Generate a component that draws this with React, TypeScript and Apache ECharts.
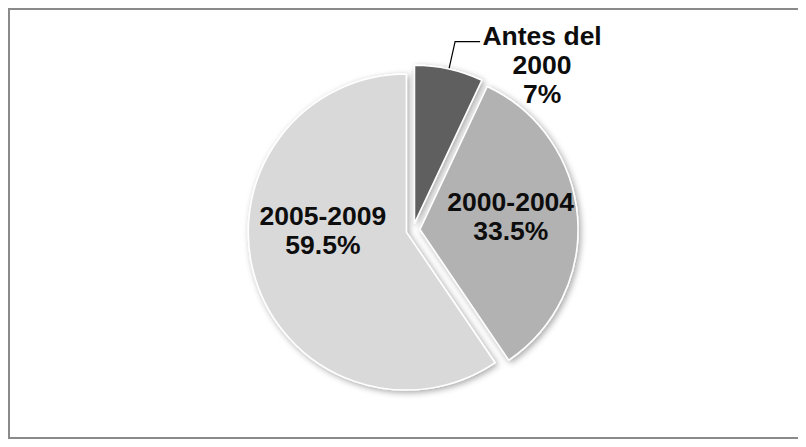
import React, { useEffect, useRef } from "react";
import * as echarts from "echarts";

const categories = ["Antes del\n2000", "2000-2004", "2005-2009"];
const shares = [7, 33.5, 59.5];
const sliceColors = ["#5f5f5f", "#b2b2b2", "#d9d9d9"];
const labelPlacement = ["outside", "inside", "inside"];

const FONT = "Liberation Sans, Arial, sans-serif";
const FONT_SIZE = 26.5;

export default function App() {
  const ref = useRef<HTMLDivElement>(null);
  useEffect(() => {
    if (!ref.current) return;
    const chart = echarts.init(ref.current, null, { renderer: "svg" });
    const data = categories.map((name, i) => {
      const outside = labelPlacement[i] === "outside";
      return {
        name,
        value: shares[i],
        selected: true,
        itemStyle: { color: sliceColors[i] },
        label: outside
          ? {
              position: "outside",
              distanceToLabelLine: 2,
              padding: [46, 0, 0, 0],
              formatter: (p: any) =>
                `${p.name}\n${p.value}%`
                  .split("\n")
                  .map((s: string) => `{a|${s}}`)
                  .join("\n"),
              rich: {
                a: {
                  width: 120,
                  align: "center",
                  fontFamily: FONT,
                  fontWeight: "bold",
                  fontSize: FONT_SIZE,
                  lineHeight: 29,
                  color: "#0d0d0d",
                },
              },
            }
          : { position: "inside" },
        labelLine: {
          show: outside,
          length: 28,
          length2: 25,
          lineStyle: { color: "#000000", width: 1.2 },
        },
      };
    });
    chart.setOption({
      animation: false,
      graphic: [
        {
          type: "rect",
          shape: { x: 1, y: 1, width: 790, height: 429 },
          style: { fill: "none", stroke: "#8a8a8a", lineWidth: 2 },
          silent: true,
        },
      ],
      series: [
        {
          type: "pie",
          center: [405, 222],
          radius: [0, 158],
          startAngle: 90,
          clockwise: true,
          selectedMode: "multiple",
          selectedOffset: 7,
          avoidLabelOverlap: false,
          itemStyle: {
            borderColor: "#ffffff",
            borderWidth: 1.5,
            shadowBlur: 6,
            shadowColor: "rgba(0,0,0,0.35)",
            shadowOffsetX: 2,
            shadowOffsetY: 2,
          },
          label: {
            show: true,
            formatter: (p: any) => `${p.name}\n${p.value}%`,
            fontFamily: FONT,
            fontWeight: "bold",
            fontSize: FONT_SIZE,
            lineHeight: 29,
            color: "#0d0d0d",
            align: "center",
          },
          labelLayout: (params: any) => {
            if (params.dataIndex === 1) return { dx: 9, dy: -7 };
            if (params.dataIndex === 2) return { dx: -5, dy: -26 };
            return {};
          },
          emphasis: { disabled: true },
          data,
        },
      ],
    });
    return () => chart.dispose();
  }, []);
  return <div ref={ref} style={{ width: 792, height: 431 }} />;
}
